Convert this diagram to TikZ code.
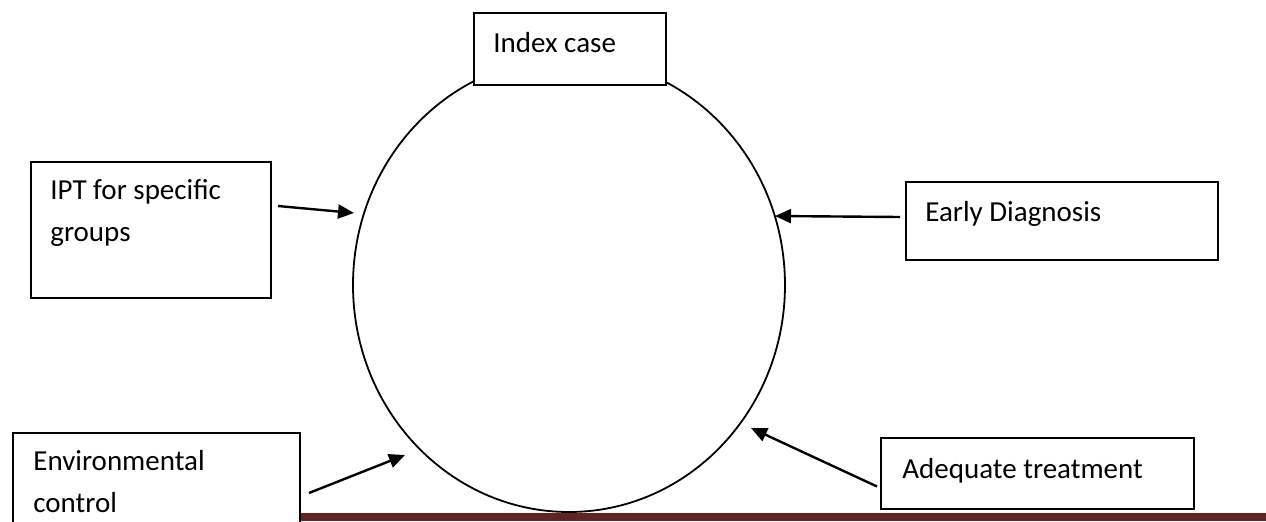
\documentclass[tikz,border=0pt]{standalone}
\usepackage{fontspec}
\setmainfont{Carlito}
\usetikzlibrary{shapes.geometric,arrows.meta}
\definecolor{barred}{RGB}{98,36,35}

\tikzset{
	box/.style = {draw, line width=1pt, fill=white, rectangle, inner sep=0pt, anchor=north west},
	lbl/.style = {anchor=base west, align=left, inner sep=0pt, font=\fontsize{14.5}{21}\selectfont},
	pointer/.style = {line width=1.2pt, -{Triangle[length=8pt,width=7pt]}}
}

\begin{document}
\begin{tikzpicture}[x=0.5pt,y=-0.5pt]
\useasboundingbox (0,0) rectangle (1266,521);
\clip (0,0) rectangle (1266,521);
% bottom rule
\fill[barred] (300,512.5) rectangle (1266,521);
\node[ellipse, draw, line width=0.9pt, inner sep=0pt, minimum width=216pt, minimum height=227pt] (ring) at (569,285) {};
\node[box, minimum width=96pt, minimum height=36pt] (index) at (473,12) {};
\node[box, minimum width=120pt, minimum height=68pt] (ipt) at (30,161) {};
\node[box, minimum width=156pt, minimum height=39pt] (early) at (905,181) {};
\node[box, minimum width=143.5pt, minimum height=60pt] (env) at (12,432) {};
\node[box, minimum width=156.5pt, minimum height=35.5pt] (adequate) at (880,437) {};
% labels (base of a two-line label is its last line)
\node[lbl] (indexlbl) at ([shift={(10pt,-20pt)}]index.north west) {Index case};
\node[lbl] (iptlbl) at ([shift={(10pt,-40pt)}]ipt.north west) {IPT for specific\\groups};
\node[lbl] (earlylbl) at ([shift={(10pt,-20pt)}]early.north west) {Early Diagnosis};
\node[lbl] (envlbl) at ([shift={(10.5pt,-40pt)}]env.north west) {Environmental\\control};
\node[lbl] (adequatelbl) at ([shift={(11pt,-20.5pt)}]adequate.north west) {Adequate treatment};
% arrow tips next to the ring
\coordinate (iptTip) at (354,213);
\coordinate (earlyTip) at (775,216);
\coordinate (envTip) at (405,455);
\coordinate (adequateTip) at (751,428);
\draw[pointer] ([shift={(3pt,12pt)}]ipt.east) -- (iptTip);
\draw[pointer] ([shift={(-2.5pt,2pt)}]early.west) -- (earlyTip);
\draw[pointer] ([shift={(4pt,0pt)}]env.east) -- (envTip);
\draw[pointer] ([shift={(-1.5pt,-6.5pt)}]adequate.west) -- (adequateTip);
\end{tikzpicture}
\end{document}
